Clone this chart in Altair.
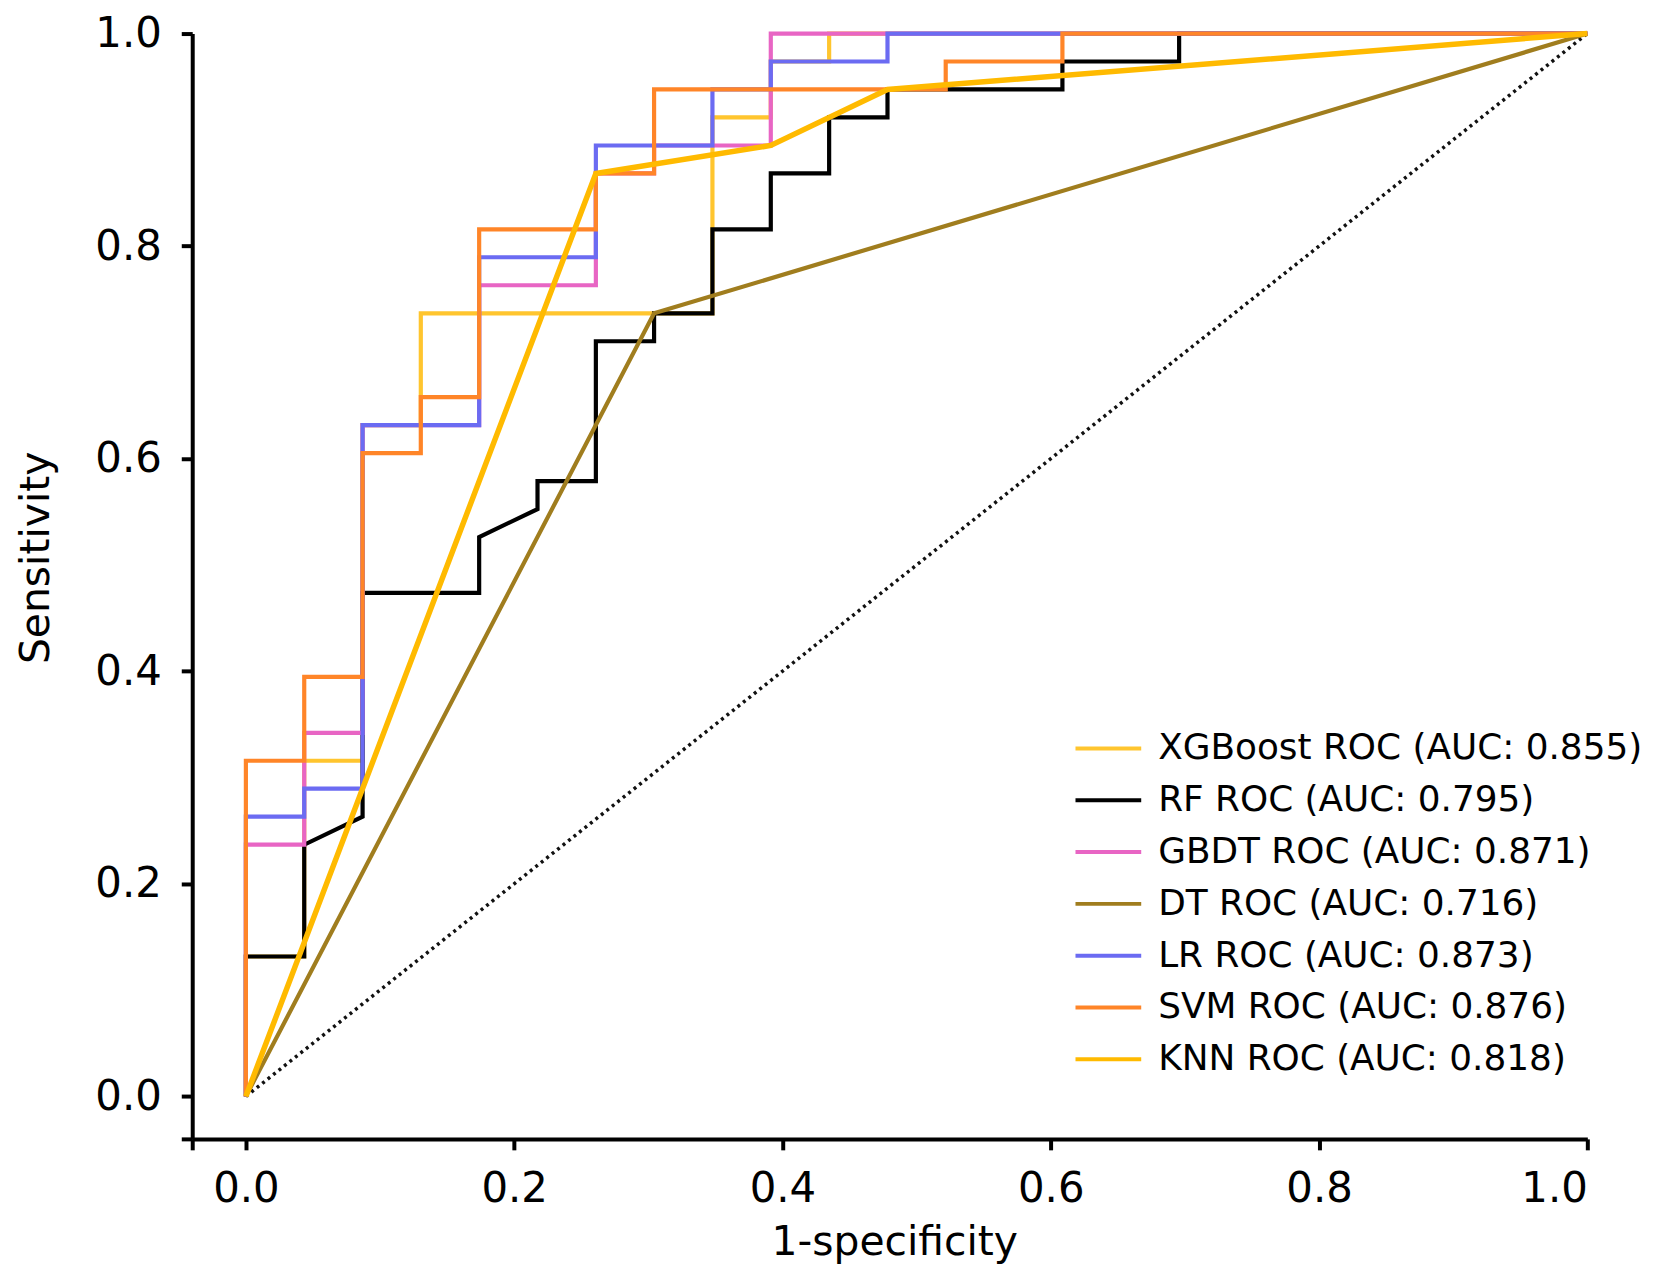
import altair as alt
import pandas as pd

labels = [
    "XGBoost ROC (AUC: 0.855)",
    "RF ROC (AUC: 0.795)",
    "GBDT ROC (AUC: 0.871)",
    "DT ROC (AUC: 0.716)",
    "LR ROC (AUC: 0.873)",
    "SVM ROC (AUC: 0.876)",
    "KNN ROC (AUC: 0.818)",
]
colors = ["#FFC52E", "#000000", "#E865C4", "#A07D1E", "#6B6BF2", "#FF8528", "#FFBA00"]
widths = [4.2, 4.2, 4.2, 4.2, 4.2, 4.2, 5.5]

xgb_fpr = [0, 0, 0.0435, 0.0435, 0.0870, 0.0870, 0.1304, 0.1304, 0.3478, 0.3478, 0.3913, 0.3913, 0.4348, 0.4348, 1]
xgb_tpr = [0, 0.1316, 0.1316, 0.3158, 0.3158, 0.6316, 0.6316, 0.7368, 0.7368, 0.9211, 0.9211, 0.9737, 0.9737, 1, 1]

rf_fpr = [0, 0, 0.0435, 0.0435, 0.0870, 0.0870, 0.1739, 0.1739, 0.2174, 0.2174, 0.2609, 0.2609, 0.3043, 0.3043,
          0.3478, 0.3478, 0.3913, 0.3913, 0.4348, 0.4348, 0.4783, 0.4783, 0.6087, 0.6087, 0.6957, 0.6957, 1]
rf_tpr = [0, 0.1316, 0.1316, 0.2368, 0.2632, 0.4737, 0.4737, 0.5263, 0.5526, 0.5789, 0.5789, 0.7105, 0.7105, 0.7368,
          0.7368, 0.8158, 0.8158, 0.8684, 0.8684, 0.9211, 0.9211, 0.9474, 0.9474, 0.9737, 0.9737, 1, 1]

gbdt_fpr = [0, 0, 0.0435, 0.0435, 0.0870, 0.0870, 0.1739, 0.1739, 0.2609, 0.2609, 0.3043, 0.3043, 0.3913, 0.3913, 1]
gbdt_tpr = [0, 0.2368, 0.2368, 0.3421, 0.3421, 0.6316, 0.6316, 0.7632, 0.7632, 0.8684, 0.8684, 0.8947, 0.8947, 1, 1]

dt_fpr = [0, 0.3043, 1]
dt_tpr = [0, 0.7368, 1]

lr_fpr = [0, 0, 0.0435, 0.0435, 0.0870, 0.0870, 0.1739, 0.1739, 0.2609, 0.2609, 0.3478, 0.3478, 0.3913, 0.3913,
          0.4783, 0.4783, 1]
lr_tpr = [0, 0.2632, 0.2632, 0.2895, 0.2895, 0.6316, 0.6316, 0.7895, 0.7895, 0.8947, 0.8947, 0.9474, 0.9474, 0.9737,
          0.9737, 1, 1]

svm_fpr = [0, 0, 0.0435, 0.0435, 0.0870, 0.0870, 0.1304, 0.1304, 0.1739, 0.1739, 0.2609, 0.2609, 0.3043, 0.3043,
           0.5217, 0.5217, 0.6087, 0.6087, 1]
svm_tpr = [0, 0.3158, 0.3158, 0.3947, 0.3947, 0.6053, 0.6053, 0.6579, 0.6579, 0.8158, 0.8158, 0.8684, 0.8684, 0.9474,
           0.9474, 0.9737, 0.9737, 1, 1]

knn_fpr = [0, 0.2609, 0.3913, 0.4783, 1]
knn_tpr = [0, 0.8684, 0.8947, 0.9474, 1]

diag_x = [0, 1]
diag_y = [0, 1]

series = [
    (xgb_fpr, xgb_tpr), (rf_fpr, rf_tpr), (gbdt_fpr, gbdt_tpr), (dt_fpr, dt_tpr),
    (lr_fpr, lr_tpr), (svm_fpr, svm_tpr), (knn_fpr, knn_tpr),
]

FONT = "DejaVu Sans"

xscale = alt.Scale(domain=[-0.04, 1.0], nice=False, zero=False)
yscale = alt.Scale(domain=[-0.04, 1.0], nice=False, zero=False)
tick_vals = [-0.04, 0, 0.2, 0.4, 0.6, 0.8, 1.0]
label_expr = "datum.value < 0 ? '' : format(datum.value, '.1f')"

xaxis = alt.Axis(
    values=tick_vals, labelExpr=label_expr, title="1-specificity",
    titleX=705, titleY=104, titleBaseline="middle", titleAlign="center",
    labelPadding=19,
)
yaxis = alt.Axis(
    values=tick_vals, labelExpr=label_expr, title="Sensitivity",
    titleX=-156, titleY=526, titleAngle=270, titleBaseline="middle", titleAlign="center",
    labelPadding=20,
)
legend = alt.Legend(
    title=None, orient="none", legendX=885, legendY=692,
    symbolType="stroke", symbolSize=4356, symbolStrokeWidth=4,
    labelFont=FONT, labelFontSize=36, labelColor="black", labelLimit=1000,
    labelOffset=15, clipHeight=52, rowPadding=0, padding=0,
)
color = alt.Color("model:N", scale=alt.Scale(domain=labels, range=colors), legend=legend,
                  sort=labels)

diag_df = pd.DataFrame({"fpr": diag_x, "tpr": diag_y})
layers = [
    alt.Chart(diag_df).mark_line(color="#111111", strokeWidth=3.5, strokeDash=[3, 4]).encode(
        x=alt.X("fpr:Q", scale=xscale, axis=xaxis),
        y=alt.Y("tpr:Q", scale=yscale, axis=yaxis),
    )
]
for lab, (fx, ty), w in zip(labels, series, widths):
    df = pd.DataFrame({"fpr": fx, "tpr": ty, "i": list(range(len(fx))), "model": lab})
    layers.append(
        alt.Chart(df).mark_line(strokeWidth=w, strokeJoin="miter").encode(
            x=alt.X("fpr:Q", scale=xscale, axis=xaxis),
            y=alt.Y("tpr:Q", scale=yscale, axis=yaxis),
            color=color,
            order="i:Q",
        )
    )

chart = alt.layer(*layers).properties(
    width=1401, height=1110,
    autosize=alt.AutoSizeParams(type="none"),
    padding={"left": 185, "top": 23, "right": 78, "bottom": 130},
).configure_view(stroke=None).configure_axis(
    grid=False, domainColor="black", domainWidth=4, tickColor="black", tickWidth=4, tickSize=11,
    labelFont=FONT, labelFontSize=42, labelColor="black",
    titleFont=FONT, titleFontSize=41, titleFontWeight="normal", titleColor="black",
)

chart.save("out.html", embed_options={"renderer": "svg", "actions": False})
